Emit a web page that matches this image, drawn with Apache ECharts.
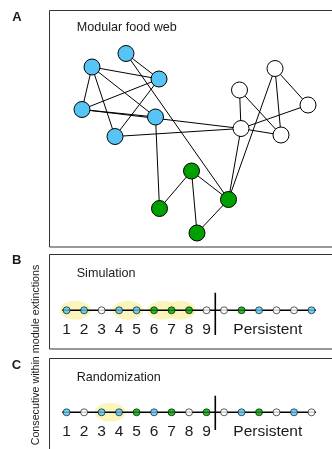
<!DOCTYPE html>
<html>
<head>
<meta charset="utf-8">
<script src="https://cdn.jsdelivr.net/npm/echarts@6/dist/echarts.min.js"></script>
<style>
  html, body { margin: 0; padding: 0; background: #fff; }
  #chart { width: 332px; height: 449px; }
</style>
</head>
<body>
<div id="chart"></div>
<script>
// ---- Panel A: modular food web ----
const nodeNames  = ['b1', 'b2', 'b3', 'b4', 'b5', 'b6', 'g1', 'g2', 'g3', 'g4', 'w1', 'w2', 'w3', 'w4', 'w5'];
const nodeModule = ['blue', 'blue', 'blue', 'blue', 'blue', 'blue',
                    'green', 'green', 'green', 'green',
                    'white', 'white', 'white', 'white', 'white'];
// layout coordinates of each species in the web
const nodeX = [77, 43, 110, 33, 106.5, 66, 142.5, 179.5, 110.5, 148, 226, 190.5, 259, 192, 232];
const nodeY = [43.5, 57, 69, 99.5, 107, 126.5, 161, 189.5, 198.5, 223, 58.5, 80, 95, 118.5, 125];
const foodLinks = [
  ['b1', 'b3'], ['b1', 'g2'], ['b2', 'b3'], ['b2', 'b4'], ['b2', 'b5'], ['b2', 'b6'],
  ['b3', 'b4'], ['b3', 'b6'], ['b4', 'b5'], ['b4', 'w4'], ['b5', 'g3'], ['b6', 'w4'],
  ['g1', 'g3'], ['g1', 'g4'], ['g1', 'g2'], ['g2', 'g4'], ['g2', 'w4'], ['g2', 'w1'],
  ['w1', 'w3'], ['w1', 'w5'], ['w2', 'w4'], ['w2', 'w5'], ['w4', 'w5'], ['w4', 'w3']
];

// ---- Panels B and C: extinction order ----
const rankLabels = ['1', '2', '3', '4', '5', '6', '7', '8', '9'];
const simExtinct  = ['blue', 'blue', 'white', 'blue', 'blue', 'green', 'green', 'green', 'white'];
const simPersist  = ['white', 'green', 'blue', 'white', 'white', 'blue'];
const simRuns     = [[1, 2], [4, 5], [6, 7], [7, 8]];
const randExtinct = ['blue', 'white', 'blue', 'blue', 'green', 'blue', 'green', 'white', 'green'];
const randPersist = ['white', 'blue', 'green', 'white', 'blue', 'white'];
const randRuns    = [[3, 4]];

const moduleColor = { blue: '#56c5f5', green: '#00a000', white: '#ffffff' };
const FONT = '"Liberation Sans", Arial, Helvetica, sans-serif';
const INK = '#1a1a1a';

const chart = echarts.init(document.getElementById('chart'), null, { renderer: 'canvas' });

const graphNodes = nodeNames.map((n, i) => ({
  name: n,
  value: [nodeX[i], nodeY[i]],
  itemStyle: { color: moduleColor[nodeModule[i]] }
}));
const graphLinks = foodLinks.map(([s, t]) => ({ source: s, target: t }));

const nSlots = rankLabels.length + simPersist.length;   // 15 positions along the track
const persistMid = (rankLabels.length + 1 + nSlots) / 2; // centre of the persistent block
const cutPos = rankLabels.length + 0.5;                   // divider between extinct and persistent

function stripSeries(idx, extinct, persist, runs, cutTop, cutBottom) {
  const seq = extinct.concat(persist);
  return [
    {
      type: 'scatter', xAxisIndex: idx, yAxisIndex: idx, z: 1, silent: true,
      symbol: 'circle', symbolSize: [31, 19],
      itemStyle: { color: '#f7f2ad' },
      data: runs.map(r => [(r[0] + r[1]) / 2, 0])
    },
    {
      type: 'line', xAxisIndex: idx, yAxisIndex: idx, z: 2, silent: true,
      symbol: 'none', clip: false,
      lineStyle: { color: '#000', width: 1.5 },
      data: [[1 - 0.25, 0], [nSlots + 0.25, 0]]
    },
    {
      type: 'line', xAxisIndex: idx, yAxisIndex: idx, z: 2, silent: true,
      symbol: 'none', clip: false,
      lineStyle: { color: '#000', width: 1.6 },
      data: [[cutPos, cutTop], [cutPos, cutBottom]]
    },
    {
      type: 'scatter', xAxisIndex: idx, yAxisIndex: idx, z: 3, silent: true,
      symbol: 'circle', symbolSize: 7,
      data: seq.map((m, i) => ({
        value: [i + 1, 0],
        itemStyle: { color: moduleColor[m], borderColor: '#000', borderWidth: 0.8 }
      }))
    }
  ];
}

function stripXAxis(idx) {
  return {
    type: 'value', gridIndex: idx, min: 0, max: 16, interval: 0.5,
    axisLine: { show: false }, axisTick: { show: false }, splitLine: { show: false },
    axisLabel: {
      margin: 11, fontSize: 15.5, fontFamily: FONT, color: INK,
      formatter: v => {
        if (Number.isInteger(v) && v >= 1 && v <= rankLabels.length) return rankLabels[v - 1];
        if (v === persistMid) return 'Persistent';
        return '';
      }
    }
  };
}

function txt(text, x, y, size, opts) {
  return Object.assign({
    type: 'text', x: x, y: y, silent: true,
    style: {
      text: text, x: 0, y: 0, fill: INK,
      font: (opts && opts.bold ? 'bold ' : '') + size + 'px ' + FONT,
      align: (opts && opts.align) || 'left', textAlign: (opts && opts.align) || 'left',
      verticalAlign: 'middle', textVerticalAlign: 'middle'
    }
  }, opts && opts.rotation ? { rotation: opts.rotation } : {});
}

function box(x, y, w, h) {
  return {
    type: 'rect', silent: true,
    shape: { x: x, y: y, width: w, height: h },
    style: { fill: 'none', stroke: '#333', lineWidth: 1 }
  };
}

const option = {
  animation: false,
  backgroundColor: '#fff',
  grid: [
    { left: 49, top: 10, width: 283, height: 237 },
    { left: 49.1, top: 290.3, width: 288.8, height: 20 },
    { left: 49.1, top: 392.3, width: 288.8, height: 20 }
  ],
  xAxis: [
    { type: 'value', gridIndex: 0, min: 0, max: 283, show: false },
    stripXAxis(1),
    stripXAxis(2)
  ],
  yAxis: [
    { type: 'value', gridIndex: 0, min: 0, max: 237, inverse: true, show: false },
    { type: 'value', gridIndex: 1, min: 0, max: 1, show: false },
    { type: 'value', gridIndex: 2, min: 0, max: 1, show: false }
  ],
  graphic: [
    box(49.5, 10.5, 300, 236.5),
    box(49.5, 254.5, 300, 94.5),
    box(49.5, 358.5, 300, 120),
    txt('A', 17, 17.3, 13, { bold: true, align: 'center' }),
    txt('B', 16.7, 260.5, 13, { bold: true, align: 'center' }),
    txt('C', 16.5, 365, 13, { bold: true, align: 'center' }),
    txt('Modular food web', 76.7, 27.8, 12.6),
    txt('Simulation', 76.7, 274, 12.6),
    txt('Randomization', 76.7, 378, 12.6),
    txt('Consecutive within module extinctions', 36, 355, 10.7, { align: 'center', rotation: Math.PI / 2 })
  ],
  series: [
    {
      type: 'graph', coordinateSystem: 'cartesian2d', xAxisIndex: 0, yAxisIndex: 0,
      silent: true, symbol: 'circle', symbolSize: 16,
      itemStyle: { borderColor: '#000', borderWidth: 1 },
      lineStyle: { color: '#000', width: 1, opacity: 1, curveness: 0 },
      label: { show: false },
      emphasis: { disabled: true },
      data: graphNodes,
      links: graphLinks
    },
    ...stripSeries(1, simExtinct, simPersist, simRuns, 0.88, -1.24),
    ...stripSeries(2, randExtinct, randPersist, randRuns, 0.83, -0.89)
  ]
};

chart.setOption(option);
</script>
</body>
</html>
